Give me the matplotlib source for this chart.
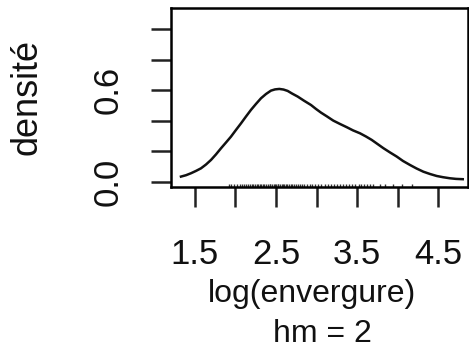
import numpy as np
import matplotlib
matplotlib.use("Agg")
import matplotlib.pyplot as plt

plt.rcParams['font.family'] = ['Liberation Sans', 'DejaVu Sans']

# courbe de densité
dens_x = [1.327, 1.389, 1.451, 1.512, 1.574, 1.636, 1.698, 1.759, 1.821, 1.883,
          1.944, 2.006, 2.068, 2.130, 2.191, 2.253, 2.315, 2.377, 2.438, 2.488,
          2.541, 2.593, 2.644, 2.698, 2.768, 2.846, 2.932, 2.994, 3.056, 3.130,
          3.207, 3.290, 3.373, 3.451, 3.537, 3.611, 3.681, 3.753, 3.825, 3.907,
          3.990, 4.068, 4.154, 4.235, 4.319, 4.401, 4.484, 4.562, 4.648, 4.722,
          4.805]
dens_y = [0.035, 0.044, 0.057, 0.072, 0.089, 0.114, 0.144, 0.180, 0.220, 0.258,
          0.296, 0.340, 0.383, 0.428, 0.471, 0.510, 0.547, 0.575, 0.597, 0.605,
          0.608, 0.604, 0.595, 0.578, 0.558, 0.531, 0.503, 0.477, 0.453, 0.428,
          0.401, 0.379, 0.358, 0.337, 0.318, 0.297, 0.275, 0.248, 0.221, 0.193,
          0.166, 0.137, 0.111, 0.088, 0.067, 0.052, 0.039, 0.031, 0.024, 0.020,
          0.018]

# observations (rug)
obs = [1.92, 1.95, 1.98, 2.02, 2.05, 2.08, 2.10, 2.13, 2.15, 2.18, 2.20, 2.22,
       2.24, 2.26, 2.28, 2.30, 2.32, 2.34, 2.35, 2.38, 2.40, 2.42, 2.43, 2.45,
       2.47, 2.49, 2.50, 2.52, 2.53, 2.55, 2.57, 2.59, 2.60, 2.62, 2.64, 2.66,
       2.68, 2.70, 2.72, 2.75, 2.77, 2.80, 2.82, 2.85, 2.88, 2.92, 2.95, 2.98,
       3.02, 3.06, 3.10, 3.14, 3.18, 3.22, 3.25, 3.29, 3.33, 3.37, 3.40, 3.44,
       3.48, 3.52, 3.55, 3.59, 3.62, 3.66, 3.70, 3.78, 3.85, 3.95, 4.05, 4.18]

xticks = [1.5, 2.0, 2.5, 3.0, 3.5, 4.0, 4.5]
xticklabels = ['1.5', '', '2.5', '', '3.5', '', '4.5']
yticks = [0.0, 0.2, 0.4, 0.6, 0.8, 1.0]
yticklabels = ['0.0', '', '', '0.6', '', '']

W, H = 469, 348
fig = plt.figure(figsize=(W / 100, H / 100), dpi=100)
# axes en pixels : gauche 171, haut 8, bas 187, droite 468
ax = fig.add_axes([171 / W, 1 - 187 / H, (468 - 171) / W, (187 - 8) / H])

ax.plot(dens_x, dens_y, color='#111111', lw=1.8, solid_joinstyle='round')
ax.vlines(obs, 0.0, 0.018, transform=ax.get_xaxis_transform(),
          color='#333333', lw=1.0)

ax.set_xlim(1.204, 4.870)
ax.set_ylim(-0.033, 1.137)

ax.set_xticks(xticks)
ax.set_xticklabels(xticklabels)
ax.set_yticks(yticks)
ax.set_yticklabels(yticklabels, rotation=90, va='center')

ax.tick_params(axis='both', direction='out', length=14.4, width=1.8,
               labelsize=25, color='#222222', labelcolor='#111111')
ax.tick_params(axis='x', pad=22)
ax.tick_params(axis='y', pad=19)
for s in ax.spines.values():
    s.set_linewidth(1.8)

fig.text(27 / W, 1 - 97 / H, 'densité', rotation=90, ha='center', va='center',
         fontsize=26, color='#111111')
fig.text(312 / W, 1 - 302 / H, 'log(envergure)', ha='center', va='baseline',
         fontsize=23, color='#111111')
fig.text(322 / W, 1 - 342 / H, 'hm = 2', ha='center', va='baseline',
         fontsize=23, color='#111111')

fig.savefig('out.png', dpi=100)
